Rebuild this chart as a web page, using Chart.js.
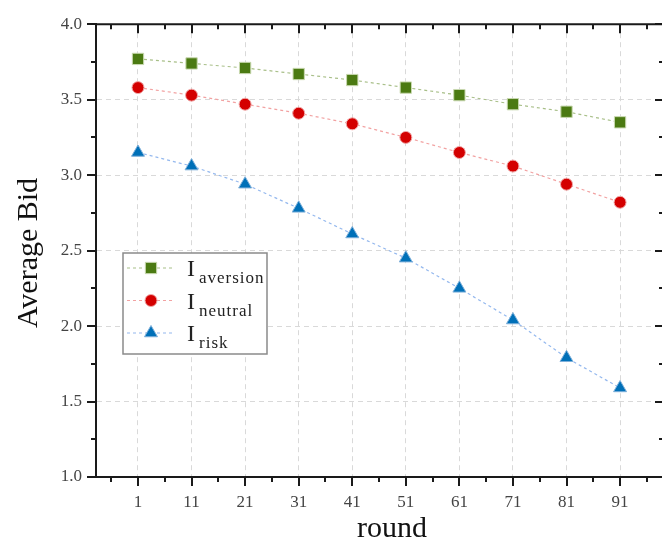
<!DOCTYPE html>
<html>
<head>
<meta charset="utf-8">
<script src="https://cdn.jsdelivr.net/npm/chart.js@4.4.0/dist/chart.umd.min.js"></script>
<style>
  html, body { margin: 0; padding: 0; background: #fff; overflow: hidden; }
</style>
</head>
<body>
<canvas id="grafico" width="673" height="541"></canvas>
<script>
// datos
const rounds = [1, 11, 21, 31, 41, 51, 61, 71, 81, 91];
const aversion = [3.77, 3.74, 3.71, 3.67, 3.63, 3.58, 3.53, 3.47, 3.42, 3.35];
const neutral  = [3.58, 3.53, 3.47, 3.41, 3.34, 3.25, 3.15, 3.06, 2.94, 2.82];
const risk     = [3.15, 3.06, 2.94, 2.78, 2.61, 2.45, 2.25, 2.04, 1.79, 1.59];

const seriesNames = ['aversion', 'neutral', 'risk'];
const xTicks = [1, 11, 21, 31, 41, 51, 61, 71, 81, 91];
const xMinorTicks = [-4, 6, 16, 26, 36, 46, 56, 66, 76, 86, 96];
const yTicks = [1.0, 1.5, 2.0, 2.5, 3.0, 3.5, 4.0];
const yMinorTicks = [1.25, 1.75, 2.25, 2.75, 3.25, 3.75];

const toPoints = vals => rounds.map((r, i) => ({ x: r, y: vals[i] }));
const serif = "'Liberation Serif', 'DejaVu Serif', serif";

// marco completo con ticks (abajo/izq hacia afuera, arriba/der hacia adentro)
const marco = {
  id: 'marco',
  afterDraw(chart) {
    const { ctx, chartArea: a, scales: { x, y } } = chart;
    ctx.save();
    ctx.strokeStyle = '#1a1a1a';
    ctx.lineWidth = 2;
    ctx.beginPath();
    ctx.moveTo(a.left - 1, a.top); ctx.lineTo(a.right, a.top);
    ctx.moveTo(a.right, a.top); ctx.lineTo(a.right, a.bottom);
    const xt = (vals, len) => vals.forEach(v => {
      const p = Math.round(x.getPixelForValue(v));
      ctx.moveTo(p, a.bottom); ctx.lineTo(p, a.bottom + len);
      ctx.moveTo(p, a.top); ctx.lineTo(p, a.top + len);
    });
    const yt = (vals, len) => vals.forEach(v => {
      const p = Math.round(y.getPixelForValue(v));
      ctx.moveTo(a.left, p); ctx.lineTo(a.left - len, p);
      ctx.moveTo(a.right, p); ctx.lineTo(a.right - len, p);
    });
    xt(xTicks, 9); xt(xMinorTicks, 5);
    yt(yTicks, 9); yt(yMinorTicks, 5);
    ctx.stroke();

    // títulos de ejes
    ctx.fillStyle = '#111';
    ctx.font = '30px ' + serif;
    ctx.textAlign = 'center';
    ctx.textBaseline = 'alphabetic';
    ctx.fillText('round', 392, 537);
    ctx.translate(37, 253);
    ctx.rotate(-Math.PI / 2);
    ctx.fillText('Average Bid', 0, 0);
    ctx.restore();
  }
};

// leyenda con subíndices
const leyenda = {
  id: 'leyenda',
  afterDraw(chart) {
    const { ctx } = chart;
    const bx = 123, by = 253, bw = 144, bh = 101;
    ctx.save();
    ctx.fillStyle = '#fff';
    ctx.fillRect(bx, by, bw, bh);
    ctx.strokeStyle = '#8a8a8a';
    ctx.lineWidth = 1.5;
    ctx.strokeRect(bx, by, bw, bh);
    chart.data.datasets.forEach((ds, i) => {
      const cy = by + 15 + i * 32.5;
      ctx.strokeStyle = ds.borderColor;
      ctx.lineWidth = 1.2;
      ctx.setLineDash([3, 3]);
      ctx.beginPath();
      ctx.moveTo(bx + 4, cy); ctx.lineTo(bx + 50, cy);
      ctx.stroke();
      ctx.setLineDash([]);
      ctx.fillStyle = ds.pointBackgroundColor;
      ctx.strokeStyle = ds.pointBorderColor;
      ctx.lineWidth = ds.pointBorderWidth;
      Chart.helpers.drawPoint(ctx, { pointStyle: ds.pointStyle, radius: ds.pointRadius, borderWidth: ds.pointBorderWidth, rotation: 0 }, bx + 28, cy);
      ctx.fillStyle = '#222';
      ctx.font = '24px ' + serif;
      ctx.textBaseline = 'alphabetic';
      ctx.fillText('I', bx + 64, cy + 8);
      ctx.font = '17px ' + serif;
      ctx.letterSpacing = '1px';
      ctx.fillText(seriesNames[i], bx + 76, cy + 15);
      ctx.letterSpacing = '0px';
    });
    ctx.restore();
  }
};

new Chart(document.getElementById('grafico'), {
  type: 'scatter',
  data: {
    datasets: [
      {
        label: 'aversion', data: toPoints(aversion), showLine: true,
        borderColor: '#a8bf88', borderWidth: 1.2, borderDash: [3, 3],
        pointStyle: 'rect', pointRadius: 8, pointHoverRadius: 8,
        pointBackgroundColor: '#4b7a12', pointBorderColor: '#c9d9b0', pointBorderWidth: 1
      },
      {
        label: 'neutral', data: toPoints(neutral), showLine: true,
        borderColor: '#f2a2a2', borderWidth: 1.2, borderDash: [3, 3],
        pointStyle: 'circle', pointRadius: 6, pointHoverRadius: 6,
        pointBackgroundColor: '#d40000', pointBorderColor: '#f0a8a8', pointBorderWidth: 1
      },
      {
        label: 'risk', data: toPoints(risk), showLine: true,
        borderColor: '#94b8ee', borderWidth: 1.2, borderDash: [3, 3],
        pointStyle: 'triangle', pointRadius: 7.5, pointHoverRadius: 7.5,
        pointBackgroundColor: '#0070b8', pointBorderColor: '#7fb0da', pointBorderWidth: 1
      }
    ]
  },
  options: {
    responsive: false,
    animation: false,
    layout: { padding: { top: 18, right: 0, left: 0, bottom: 0 } },
    plugins: { legend: { display: false }, tooltip: { enabled: false } },
    scales: {
      x: {
        type: 'linear', min: -6.84, max: 99.2,
        afterBuildTicks: s => { s.ticks = xTicks.map(v => ({ value: v })); },
        afterFit: s => { s.height = 64; s.paddingLeft = 0; s.paddingRight = 0; },
        grid: { color: '#d9d9d9', lineWidth: 1, drawTicks: false },
        border: { color: '#1a1a1a', width: 2, dash: [5, 4] },
        ticks: { padding: 15, color: '#444', font: { family: serif, size: 17 }, maxRotation: 0, autoSkip: false }
      },
      y: {
        min: 1, max: 4,
        afterBuildTicks: s => { s.ticks = yTicks.map(v => ({ value: v })); },
        afterFit: s => { s.width = 96; },
        grid: { color: '#d9d9d9', lineWidth: 1, drawTicks: false },
        border: { color: '#1a1a1a', width: 2, dash: [5, 4] },
        ticks: { padding: 14, color: '#444', font: { family: serif, size: 17 }, callback: v => v.toFixed(1) }
      }
    }
  },
  plugins: [marco, leyenda]
});
</script>
</body>
</html>
